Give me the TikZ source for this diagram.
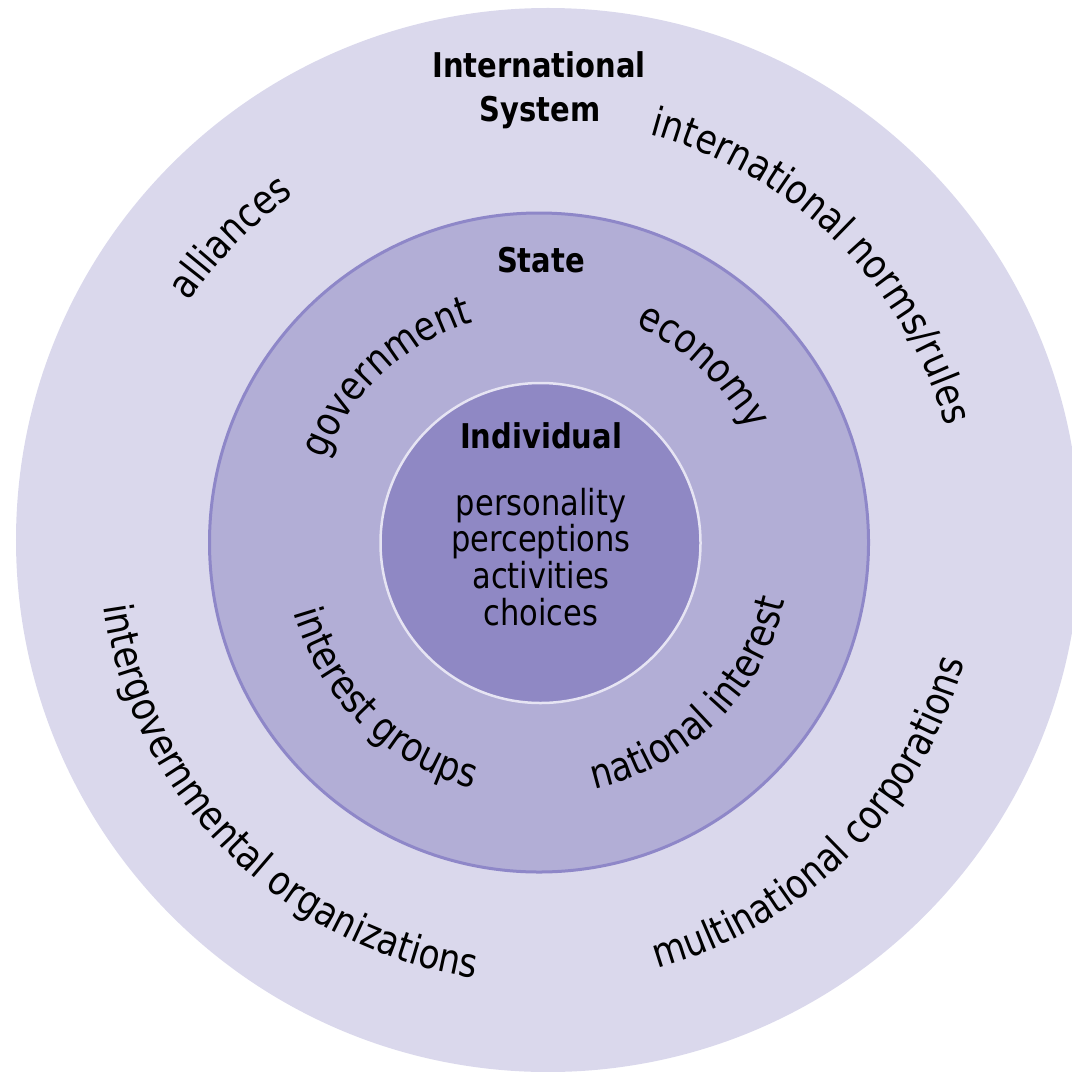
\documentclass[tikz,border=0pt]{standalone}
\usepackage{fontspec}
\setmainfont{DejaVu Sans}[FakeStretch=0.85]
\usepackage{xcolor}
\usetikzlibrary{decorations.text}

% ring colours
\definecolor{sysfill}{HTML}{DAD8EC}
\definecolor{statefill}{HTML}{B2AED6}
\definecolor{stateline}{HTML}{8E87C8}
\definecolor{indfill}{HTML}{8F88C4}
\definecolor{indline}{HTML}{E6E4F3}

\newcommand{\ringfont}{\fontsize{11.5}{13}\selectfont}
\newcommand{\itemfont}{\fontsize{10.2}{11}\selectfont}
\newcommand{\headfont}{\fontsize{9.7}{12}\selectfont\bfseries}

\tikzset{
  ringtext/.style={decorate, decoration={text along path, text align=center, text={|\ringfont|#1}}},
  head/.style={font=\headfont, anchor=base},
  item/.style={font=\itemfont, anchor=base},
}

\begin{document}
\begin{tikzpicture}
  \useasboundingbox (0,0) rectangle (10.72,-10.71);
  \clip (0,0) rectangle (10.72,-10.71);
  \coordinate (sys) at (5.48,-5.40);
  \coordinate (mid) at (5.39,-5.425);
  \coordinate (ind) at (5.405,-5.43);

  % three levels, outside in
  \fill[sysfill] (sys) circle (5.32);
  \filldraw[fill=statefill, draw=stateline, line width=0.3mm] (mid) circle (3.295);
  \filldraw[fill=indfill, draw=indline, line width=0.25mm] (ind) circle (1.6);

  % headings
  \node[head] (intl) at (5.39,-0.78) {International};
  \node[head] (system) at (5.40,-1.22) {System};
  \node[head] (state) at (5.41,-2.72) {State};
  \node[head] (individual) at (5.41,-4.48) {Individual};

  % individual level
  \node[item] (personality) at (5.41,-5.15) {personality};
  \node[item] (perceptions) at (5.41,-5.515) {perceptions};
  \node[item] (activities) at (5.41,-5.88) {activities};
  \node[item] (choices) at (5.41,-6.25) {choices};

  % state level, top half clockwise, bottom half counter-clockwise
  \path[ringtext=government] (mid) ++(222.7:2.30) arc[start angle=222.7, end angle=42.7, radius=2.30];
  \path[ringtext=economy] (mid) ++(137:2.37) arc[start angle=137, end angle=-43, radius=2.37];
  \path[ringtext={interest groups}] (mid) ++(135.4:2.55) arc[start angle=135.4, end angle=315.4, radius=2.55];
  \path[ringtext={national interest}] (mid) ++(224.7:2.53) arc[start angle=224.7, end angle=404.7, radius=2.53];

  % international system level
  \path[ringtext=alliances] (mid) ++(225.3:4.25) arc[start angle=225.3, end angle=45.3, radius=4.25];
  \path[ringtext={international norms/rules}] (mid) ++(135.4:4.23) arc[start angle=135.4, end angle=-44.6, radius=4.23];
  \path[ringtext={intergovernmental organizations}] (mid) ++(135:4.40) arc[start angle=135, end angle=315, radius=4.40];
  \path[ringtext={multinational corporations}] (mid) ++(225:4.42) arc[start angle=225, end angle=405, radius=4.42];
\end{tikzpicture}
\end{document}
